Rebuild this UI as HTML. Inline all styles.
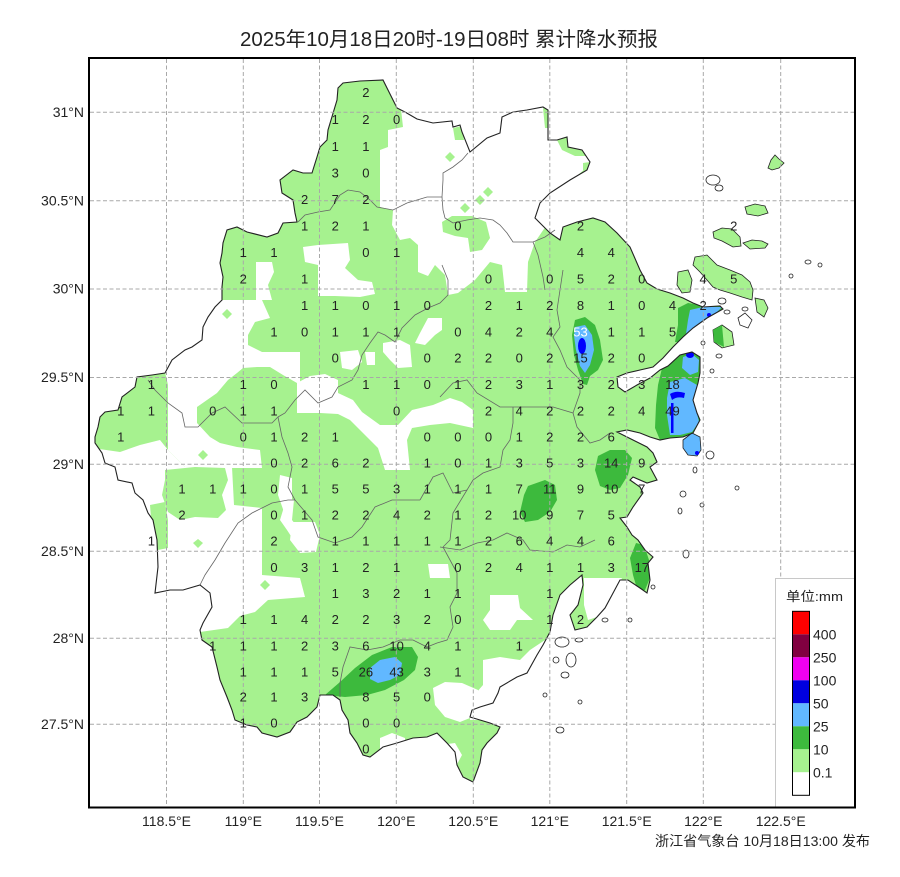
<!DOCTYPE html>
<html><head><meta charset="utf-8"><style>
html,body{margin:0;padding:0;background:#fff;}
svg{display:block;}
text{font-family:"Liberation Sans","Noto Sans CJK SC",sans-serif;}
</style></head><body>
<svg width="900" height="877" viewBox="0 0 900 877" xmlns="http://www.w3.org/2000/svg">
<defs>
<path id="prov" d="M338,88 L343,83 L360,81 L383,80 L389,92 L397,108 L405,112 L417,119 L433,123 L452,121 L453,127 L460,125 L462,132 L470,152 L487,138 L500,133 L502,117 L513,112 L527,110 L543,107 L548,110 L548,140 L557,140 L567,137 L568,147 L582,150 L590,162 L587,170 L570,180 L550,193 L540,203 L535,218 L540,223 L550,233 L560,240 L563,227 L577,222 L593,218 L605,222 L617,233 L630,247 L640,270 L647,283 L657,289 L670,293 L683,298 L693,303 L703,307 L720,306 L723,309 L707,318 L693,328 L683,337 L673,347 L663,358 L653,367 L640,370 L627,373 L617,377 L618,387 L625,392 L637,385 L650,378 L660,370 L668,366 L680,355 L692,352 L700,357 L700,373 L698,383 L693,400 L697,413 L700,420 L693,433 L683,437 L670,438 L660,440 L650,437 L640,433 L627,430 L617,432 L627,437 L647,447 L653,453 L657,462 L650,467 L657,480 L647,483 L633,477 L630,480 L640,487 L643,493 L633,507 L627,517 L620,518 L627,527 L632,535 L638,540 L645,550 L653,557 L648,563 L650,580 L647,593 L640,588 L628,580 L620,580 L612,595 L605,608 L597,617 L587,627 L575,630 L570,615 L578,605 L583,585 L582,575 L570,585 L560,595 L553,615 L550,632 L543,645 L537,655 L527,673 L517,677 L500,687 L498,693 L493,703 L480,707 L472,710 L470,717 L480,720 L490,723 L500,727 L497,733 L487,743 L482,750 L480,763 L473,782 L463,777 L457,765 L455,752 L447,743 L437,733 L427,737 L413,738 L397,743 L383,747 L370,757 L363,755 L357,743 L350,733 L348,720 L342,710 L340,700 L333,695 L320,695 L317,707 L307,717 L297,722 L290,732 L277,737 L262,733 L257,727 L247,725 L235,720 L232,710 L227,697 L220,680 L217,667 L212,647 L202,640 L200,630 L203,623 L212,607 L210,593 L200,585 L183,590 L170,590 L155,593 L158,567 L157,540 L153,520 L148,513 L143,500 L135,493 L132,483 L118,480 L115,467 L105,463 L102,453 L95,443 L95,437 L98,427 L100,417 L105,412 L118,410 L122,397 L135,387 L137,377 L152,375 L165,373 L172,360 L185,350 L192,347 L202,340 L203,327 L208,317 L215,307 L222,300 L222,287 L223,277 L220,263 L222,253 L223,243 L227,230 L237,227 L247,232 L267,237 L278,233 L283,223 L297,222 L295,213 L293,200 L282,193 L280,180 L293,170 L303,173 L312,173 L317,157 L320,147 L327,140 L328,130 L337,100 Z"/>
<clipPath id="zj"><use href="#prov"/></clipPath>
</defs>

<rect x="0" y="0" width="900" height="877" fill="#fff"/>

<!-- Title -->
<text x="240" y="46" font-size="20" fill="#222" textLength="418" lengthAdjust="spacingAndGlyphs">2025年10月18日20时-19日08时 累计降水预报</text>

<!-- Rain field clipped to province -->
<g clip-path="url(#zj)">
<rect x="85" y="70" width="680" height="720" fill="#a6f28f"/>
<g fill="#fff">
<path d="M400,100 L560,95 L595,160 L570,182 L545,200 L538,215 L546,226 L535,242 L528,262 L527,292 L505,292 L502,265 L490,262 L475,280 L458,293 L448,295 L445,275 L435,265 L428,276 L418,272 L418,245 L410,238 L400,240 L392,225 L393,210 L380,207 L380,150 L388,147 L388,130 L403,127 Z"/>
<path d="M303,247 L318,245 L348,243 L350,260 L345,268 L358,280 L372,282 L375,294 L360,297 L335,296 L318,296 L318,265 L305,262 Z"/>
<path d="M256,262 L272,262 L274,272 L268,285 L272,300 L256,300 Z"/>
<path d="M165,300 L262,300 L270,318 L255,322 L248,335 L248,345 L262,352 L300,352 L300,383 L297,383 L283,375 L270,367 L257,367 L243,368 L237,373 L228,380 L217,393 L197,407 L197,423 L210,437 L220,443 L237,447 L260,450 L262,468 L232,468 L185,467 L168,450 L168,385 L165,372 Z"/>
<path d="M297,383 L310,376 L325,374 L338,380 L338,393 L353,400 L362,412 L380,425 L398,425 L412,410 L433,405 L450,398 L462,402 L473,410 L473,428 L450,423 L430,425 L412,428 L407,440 L410,470 L385,470 L378,448 L362,432 L350,420 L338,414 L320,413 L297,413 Z"/>
<path d="M383,343 L400,340 L410,345 L412,367 L398,368 L390,360 L383,352 Z"/>
<path d="M428,318 L442,318 L442,330 L435,335 L425,345 L415,343 L420,333 Z"/>
<path d="M340,352 L358,350 L362,362 L352,370 L342,368 Z"/>
<path d="M365,352 L375,352 L375,365 L367,365 Z"/>
<path d="M85,447 L120,452 L140,445 L160,440 L168,450 L185,467 L232,467 L234,505 L262,508 L262,575 L300,578 L305,597 L268,600 L255,612 L240,616 L228,628 L200,632 L150,640 L85,640 Z"/>
<path d="M280,475 L292,478 L292,510 L284,512 L278,495 Z"/>
<path d="M287,497 L294,500 L292,520 L302,533 L312,550 L300,550 L287,530 L280,520 Z"/>
<path d="M292,522 L315,522 L320,535 L316,552 L300,553 L290,540 Z"/>
<path d="M428,564 L448,564 L450,578 L430,578 Z"/>
<path d="M584,578 L622,578 L612,596 L605,608 L597,617 L588,620 L584,605 Z"/>
<path d="M490,595 L518,595 L520,608 L533,620 L517,620 L510,630 L490,630 L483,620 L490,610 Z"/>
<path d="M470,700 L483,685 L483,660 L500,657 L520,660 L530,650 L545,640 L560,640 L560,720 L470,720 Z"/>
<path d="M433,688 L445,682 L462,683 L478,690 L480,705 L470,718 L460,722 L445,717 L435,705 Z"/>
<path d="M380,738 L392,733 L405,738 L405,760 L380,760 Z"/>
<path d="M440,745 L455,743 L462,755 L455,768 L440,765 Z"/>
</g>
<g fill="#a6f28f">
<path d="M442,222 L452,216 L472,216 L486,222 L490,238 L482,250 L470,252 L468,238 L455,236 L443,232 Z"/>
<path d="M445,157 L450,152 L455,157 L450,162 Z"/>
<path d="M460,208 L465,203 L470,208 L465,213 Z"/>
<path d="M475,200 L480,195 L485,200 L480,205 Z"/>
<path d="M483,192 L488,187 L493,192 L488,197 Z"/>
<path d="M543,108 L550,110 L550,128 L545,128 Z"/>
<path d="M557,140 L567,137 L568,147 L582,150 L586,156 L575,156 L562,150 Z"/>
<path d="M583,163 L590,162 L588,170 L583,170 Z"/>
<path d="M453,128 L462,126 L464,140 L455,140 Z"/>
<path d="M222,314 L227,309 L232,314 L227,319 Z"/>
<path d="M165,470 L195,467 L225,468 L228,480 L222,495 L226,510 L218,518 L195,517 L180,520 L168,512 L162,495 L165,480 Z"/>
<path d="M150,505 L165,502 L168,520 L168,548 L158,550 L152,530 Z"/>
<path d="M198,455 L203,450 L208,455 L203,460 Z"/>
<path d="M260,585 L265,580 L270,585 L265,590 Z"/>
<path d="M193,543 L198,539 L203,543 L198,548 Z"/>
</g>
<!-- 10-25 -->
<g fill="#3dba3d">
<path d="M575,320 L585,317 L595,325 L600,340 L603,360 L598,370 L590,376 L587,385 L583,384 L578,370 L574,355 L572,335 Z"/>
<path d="M678,308 L688,303 L700,305 L715,304 L724,308 L712,318 L700,325 L690,334 L682,342 L675,342 L678,325 Z"/>
<path d="M662,368 L672,360 L682,354 L692,351 L700,357 L700,373 L698,385 L694,400 L697,413 L700,420 L693,433 L683,437 L670,440 L660,440 L655,428 L656,405 L658,385 Z"/>
<path d="M598,456 L610,450 L625,450 L632,458 L628,475 L620,488 L610,490 L600,486 L595,470 Z"/>
<path d="M528,486 L545,480 L555,485 L557,500 L550,512 L538,520 L525,522 L520,512 L524,495 Z"/>
<path d="M636,543 L644,545 L649,560 L650,578 L645,590 L638,592 L633,575 L630,558 Z"/>
<path d="M325,695 L340,682 L355,668 L372,655 L392,647 L412,647 L418,657 L415,670 L404,680 L385,690 L367,695 L345,697 Z"/>
</g>
<!-- 25-50 -->
<g fill="#61b8ff">
<path d="M575,327 L585,325 L592,335 L594,350 L590,365 L585,373 L580,366 L576,350 L574,336 Z"/>
<path d="M690,310 L703,307 L722,307 L712,317 L700,323 L692,332 L686,334 L688,320 Z"/>
<path d="M683,357 L692,354 L699,360 L698,372 L690,375 L682,368 Z"/>
<path d="M670,382 L685,378 L697,385 L694,400 L697,413 L699,422 L692,432 L680,435 L670,435 L667,415 L667,398 Z"/>
<path d="M370,668 L380,660 L395,657 L402,663 L400,675 L390,680 L378,683 L370,679 Z"/>
</g>
<!-- 50-100 -->
<g fill="#0000fe">
<ellipse cx="582" cy="346" rx="4" ry="8"/>
<ellipse cx="690" cy="355" rx="4" ry="3"/>
<path d="M670,394 Q676,390 685,393 L684,398 Q677,396 672,400 Z"/>
<rect x="671" y="403" width="2.5" height="30"/>
<circle cx="709" cy="315" r="2"/>
<circle cx="696" cy="329" r="2"/>
</g>
</g>

<!-- Islands -->
<g fill="#a6f28f" stroke="#222" stroke-width="0.8">
<path d="M695,257 L707,255 L717,265 L730,270 L742,275 L750,282 L753,290 L752,300 L742,297 L730,293 L720,290 L713,287 L707,280 L700,272 L693,265 Z"/>
<path d="M678,272 L688,270 L692,280 L690,292 L682,293 L677,285 Z"/>
<path d="M713,232 L722,228 L732,229 L740,237 L741,246 L733,247 L722,241 L714,238 Z"/>
<path d="M743,243 L752,240 L762,241 L768,244 L765,248 L750,249 Z"/>
<path d="M745,207 L755,204 L765,206 L768,213 L758,216 L747,214 Z"/>
<path d="M755,298 L764,300 L768,308 L764,317 L757,312 Z"/>
<path d="M713,330 L722,325 L732,332 L734,345 L722,348 L714,342 Z"/>
<path d="M768,168 L771,160 L775,155 L779,159 L784,163 L779,168 L772,170 Z"/>
</g>
<path d="M713,330 L722,325 L724,347 L714,342 Z" fill="#3dba3d"/>
<path d="M683,440 L692,433 L700,437 L701,450 L697,456 L688,455 L683,448 Z" fill="#61b8ff" stroke="#222" stroke-width="0.8"/>
<circle cx="697" cy="453" r="2" fill="#0000fe"/>
<g fill="#fff" stroke="#222" stroke-width="0.8">
<path d="M738,318 L745,313 L752,320 L748,328 L740,325 Z"/>
<ellipse cx="713" cy="180" rx="7" ry="5"/>
<ellipse cx="719" cy="188" rx="4" ry="3"/>
<ellipse cx="722" cy="301" rx="4" ry="3"/>
<ellipse cx="745" cy="309" rx="3" ry="2"/>
<ellipse cx="727" cy="312" rx="3" ry="2"/>
<ellipse cx="808" cy="262" rx="3" ry="2"/>
<ellipse cx="820" cy="265" rx="2" ry="2"/>
<ellipse cx="791" cy="276" rx="2" ry="2"/>
<ellipse cx="703" cy="343" rx="2" ry="2"/>
<ellipse cx="719" cy="356" rx="3" ry="2"/>
<ellipse cx="712" cy="371" rx="2" ry="2"/>
<ellipse cx="562" cy="642" rx="7" ry="5"/>
<ellipse cx="579" cy="640" rx="4" ry="2"/>
<ellipse cx="571" cy="660" rx="5" ry="7"/>
<ellipse cx="556" cy="660" rx="3" ry="3"/>
<ellipse cx="565" cy="675" rx="4" ry="3"/>
<ellipse cx="580" cy="702" rx="2" ry="2"/>
<ellipse cx="545" cy="695" rx="2" ry="2"/>
<ellipse cx="560" cy="730" rx="4" ry="3"/>
<ellipse cx="605" cy="620" rx="3" ry="2"/>
<ellipse cx="630" cy="620" rx="2" ry="2"/>
<ellipse cx="653" cy="587" rx="2" ry="2"/>
<ellipse cx="686" cy="554" rx="3" ry="4"/>
<ellipse cx="683" cy="494" rx="3" ry="3"/>
<ellipse cx="680" cy="511" rx="2" ry="3"/>
<ellipse cx="695" cy="470" rx="2" ry="3"/>
<ellipse cx="737" cy="488" rx="2" ry="2"/>
<ellipse cx="710" cy="455" rx="4" ry="4"/>
<ellipse cx="702" cy="505" rx="2" ry="2"/>
</g>

<!-- internal boundaries -->
<g fill="none" stroke="#666" stroke-width="0.8">
<polyline points="298,222 305,215 318,212 330,210 340,195 348,190 360,192 370,200 377,207 393,210 407,203 427,197 442,197 443,180 443,173 453,167 462,160 468,153"/>
<polyline points="442,197 443,210 445,218 453,223 467,220 480,218 493,220 500,225 507,233 513,242 533,242 545,237 555,230"/>
<polyline points="533,242 538,255 543,277 545,290"/>
<polyline points="442,265 448,280 448,295 440,303 428,308 415,315 402,328 395,342 385,335 378,332 370,343 362,355 358,370 352,380 338,387 332,397 318,403 305,390 295,400 285,413 278,417 272,423 258,423 242,423 225,407 212,413 198,427 185,427 182,413 168,403 155,390 148,380"/>
<polyline points="278,417 282,437 288,453 292,467 288,487 295,500 288,500 272,503 252,513 238,523 225,543 215,560 205,575 200,585"/>
<polyline points="295,500 312,520 318,537 335,543 352,537 362,527 375,507 392,500 415,500 420,500"/>
<polyline points="440,397 453,383 467,380 477,393 500,407 513,407 533,407 553,407 573,413 577,427 590,443 600,440 610,433"/>
<polyline points="513,407 513,423 510,440 503,450 500,467 483,473 473,480 467,490 453,493 443,473 433,477 420,500"/>
<polyline points="467,490 453,513 450,540 443,547"/>
<polyline points="573,413 580,393 580,380 567,367 560,350 553,337 560,327 557,310 560,290 563,270"/>
<polyline points="340,697 340,683 343,667 350,647 367,650 383,647 400,640 413,640 427,647 437,643 447,640 453,627 450,607 457,593 457,573 450,560 443,547"/>
<polyline points="440,547 460,550 477,543 493,540 507,533 523,540 530,550 553,552 567,545 580,547 595,540"/>
</g>

<!-- province outline -->
<use href="#prov" fill="none" stroke="#222" stroke-width="1.1"/>

<!-- grid -->
<g stroke="#a8a8a8" stroke-width="1" stroke-dasharray="4,2.5">
<line x1="166.5" y1="59" x2="166.5" y2="806"/>
<line x1="243.3" y1="59" x2="243.3" y2="806"/>
<line x1="319.5" y1="59" x2="319.5" y2="806"/>
<line x1="396.3" y1="59" x2="396.3" y2="806"/>
<line x1="473.3" y1="59" x2="473.3" y2="806"/>
<line x1="549.8" y1="59" x2="549.8" y2="806"/>
<line x1="626.7" y1="59" x2="626.7" y2="806"/>
<line x1="703.3" y1="59" x2="703.3" y2="806"/>
<line x1="780.7" y1="59" x2="780.7" y2="806"/>
<line x1="90" y1="112.3" x2="854" y2="112.3"/>
<line x1="90" y1="200.7" x2="854" y2="200.7"/>
<line x1="90" y1="289" x2="854" y2="289"/>
<line x1="90" y1="377.5" x2="854" y2="377.5"/>
<line x1="90" y1="464.3" x2="854" y2="464.3"/>
<line x1="90" y1="551.3" x2="854" y2="551.3"/>
<line x1="90" y1="638.3" x2="854" y2="638.3"/>
<line x1="90" y1="724.2" x2="854" y2="724.2"/>
</g>

<!-- numbers -->
<g font-size="13" fill="#222" text-anchor="middle">
<text x="365.9" y="97.1">2</text>
<text x="335.3" y="124.1">1</text><text x="365.9" y="124.1">2</text><text x="396.6" y="124.1">0</text>
<text x="335.3" y="151.1">1</text><text x="365.9" y="151.1">1</text>
<text x="335.3" y="177.6">3</text><text x="365.9" y="177.6">0</text>
<text x="304.6" y="204.1">2</text><text x="335.3" y="204.1">7</text><text x="365.9" y="204.1">2</text>
<text x="304.6" y="230.6">1</text><text x="335.3" y="230.6">2</text><text x="365.9" y="230.6">1</text><text x="457.9" y="230.6">0</text><text x="580.5" y="230.6">2</text><text x="733.8" y="230.6">2</text>
<text x="243.3" y="257.1">1</text><text x="274" y="257.1">1</text><text x="365.9" y="257.1">0</text><text x="396.6" y="257.1">1</text><text x="580.5" y="257.1">4</text><text x="611.2" y="257.1">4</text>
<text x="243.3" y="283.6">2</text><text x="304.6" y="283.6">1</text><text x="488.5" y="283.6">0</text><text x="549.8" y="283.6">0</text><text x="580.5" y="283.6">5</text><text x="611.2" y="283.6">2</text><text x="641.8" y="283.6">0</text><text x="703.1" y="283.6">4</text><text x="733.8" y="283.6">5</text>
<text x="304.6" y="310.1">1</text><text x="335.3" y="310.1">1</text><text x="365.9" y="310.1">0</text><text x="396.6" y="310.1">1</text><text x="427.2" y="310.1">0</text><text x="488.5" y="310.1">2</text><text x="519.2" y="310.1">1</text><text x="549.8" y="310.1">2</text><text x="580.5" y="310.1">8</text><text x="611.2" y="310.1">1</text><text x="641.8" y="310.1">0</text><text x="672.5" y="310.1">4</text><text x="703.1" y="310.1">2</text>
<text x="274" y="336.3">1</text><text x="304.6" y="336.3">0</text><text x="335.3" y="336.3">1</text><text x="365.9" y="336.3">1</text><text x="396.6" y="336.3">1</text><text x="457.9" y="336.3">0</text><text x="488.5" y="336.3">4</text><text x="519.2" y="336.3">2</text><text x="549.8" y="336.3">4</text><text x="580.5" y="336.3" fill="#fff">53</text><text x="611.2" y="336.3">1</text><text x="641.8" y="336.3">1</text><text x="672.5" y="336.3">5</text>
<text x="335.3" y="362.6">0</text><text x="427.2" y="362.6">0</text><text x="457.9" y="362.6">2</text><text x="488.5" y="362.6">2</text><text x="519.2" y="362.6">0</text><text x="549.8" y="362.6">2</text><text x="580.5" y="362.6">15</text><text x="611.2" y="362.6">2</text><text x="641.8" y="362.6">0</text>
<text x="151.4" y="388.9">1</text><text x="243.3" y="388.9">1</text><text x="274" y="388.9">0</text><text x="365.9" y="388.9">1</text><text x="396.6" y="388.9">1</text><text x="427.2" y="388.9">0</text><text x="457.9" y="388.9">1</text><text x="488.5" y="388.9">2</text><text x="519.2" y="388.9">3</text><text x="549.8" y="388.9">1</text><text x="580.5" y="388.9">3</text><text x="611.2" y="388.9">2</text><text x="641.8" y="388.9">3</text><text x="672.5" y="388.9">18</text>
<text x="120.7" y="415.3">1</text><text x="151.4" y="415.3">1</text><text x="212.7" y="415.3">0</text><text x="243.3" y="415.3">1</text><text x="274" y="415.3">1</text><text x="396.6" y="415.3">0</text><text x="488.5" y="415.3">2</text><text x="519.2" y="415.3">4</text><text x="549.8" y="415.3">2</text><text x="580.5" y="415.3">2</text><text x="611.2" y="415.3">2</text><text x="641.8" y="415.3">4</text><text x="672.5" y="415.3">49</text>
<text x="120.7" y="441.3">1</text><text x="243.3" y="441.3">0</text><text x="274" y="441.3">1</text><text x="304.6" y="441.3">2</text><text x="335.3" y="441.3">1</text><text x="427.2" y="441.3">0</text><text x="457.9" y="441.3">0</text><text x="488.5" y="441.3">0</text><text x="519.2" y="441.3">1</text><text x="549.8" y="441.3">2</text><text x="580.5" y="441.3">2</text><text x="611.2" y="441.3">6</text>
<text x="274" y="467.6">0</text><text x="304.6" y="467.6">2</text><text x="335.3" y="467.6">6</text><text x="365.9" y="467.6">2</text><text x="427.2" y="467.6">1</text><text x="457.9" y="467.6">0</text><text x="488.5" y="467.6">1</text><text x="519.2" y="467.6">3</text><text x="549.8" y="467.6">5</text><text x="580.5" y="467.6">3</text><text x="611.2" y="467.6">14</text><text x="641.8" y="467.6">9</text>
<text x="182" y="493.6">1</text><text x="212.7" y="493.6">1</text><text x="243.3" y="493.6">1</text><text x="274" y="493.6">0</text><text x="304.6" y="493.6">1</text><text x="335.3" y="493.6">5</text><text x="365.9" y="493.6">5</text><text x="396.6" y="493.6">3</text><text x="427.2" y="493.6">1</text><text x="457.9" y="493.6">1</text><text x="488.5" y="493.6">1</text><text x="519.2" y="493.6">7</text><text x="549.8" y="493.6">11</text><text x="580.5" y="493.6">9</text><text x="611.2" y="493.6">10</text><text x="641.8" y="493.6">7</text>
<text x="182" y="519.6">2</text><text x="274" y="519.6">0</text><text x="304.6" y="519.6">1</text><text x="335.3" y="519.6">2</text><text x="365.9" y="519.6">2</text><text x="396.6" y="519.6">4</text><text x="427.2" y="519.6">2</text><text x="457.9" y="519.6">1</text><text x="488.5" y="519.6">2</text><text x="519.2" y="519.6">10</text><text x="549.8" y="519.6">9</text><text x="580.5" y="519.6">7</text><text x="611.2" y="519.6">5</text>
<text x="151.4" y="545.6">1</text><text x="274" y="545.6">2</text><text x="335.3" y="545.6">1</text><text x="365.9" y="545.6">1</text><text x="396.6" y="545.6">1</text><text x="427.2" y="545.6">1</text><text x="457.9" y="545.6">1</text><text x="488.5" y="545.6">2</text><text x="519.2" y="545.6">6</text><text x="549.8" y="545.6">4</text><text x="580.5" y="545.6">4</text><text x="611.2" y="545.6">6</text>
<text x="274" y="571.9">0</text><text x="304.6" y="571.9">3</text><text x="335.3" y="571.9">1</text><text x="365.9" y="571.9">2</text><text x="396.6" y="571.9">1</text><text x="457.9" y="571.9">0</text><text x="488.5" y="571.9">2</text><text x="519.2" y="571.9">4</text><text x="549.8" y="571.9">1</text><text x="580.5" y="571.9">1</text><text x="611.2" y="571.9">3</text><text x="641.8" y="571.9">17</text>
<text x="335.3" y="597.9">1</text><text x="365.9" y="597.9">3</text><text x="396.6" y="597.9">2</text><text x="427.2" y="597.9">1</text><text x="457.9" y="597.9">1</text><text x="549.8" y="597.9">1</text>
<text x="243.3" y="623.9">1</text><text x="274" y="623.9">1</text><text x="304.6" y="623.9">4</text><text x="335.3" y="623.9">2</text><text x="365.9" y="623.9">2</text><text x="396.6" y="623.9">3</text><text x="427.2" y="623.9">2</text><text x="457.9" y="623.9">0</text><text x="549.8" y="623.9">1</text><text x="580.5" y="623.9">2</text>
<text x="212.7" y="650.3">1</text><text x="243.3" y="650.3">1</text><text x="274" y="650.3">1</text><text x="304.6" y="650.3">2</text><text x="335.3" y="650.3">3</text><text x="365.9" y="650.3">6</text><text x="396.6" y="650.3">10</text><text x="427.2" y="650.3">4</text><text x="457.9" y="650.3">1</text><text x="519.2" y="650.3">1</text>
<text x="243.3" y="676.3">1</text><text x="274" y="676.3">1</text><text x="304.6" y="676.3">1</text><text x="335.3" y="676.3">5</text><text x="365.9" y="676.3">26</text><text x="396.6" y="676.3">43</text><text x="427.2" y="676.3">3</text><text x="457.9" y="676.3">1</text>
<text x="243.3" y="701.6">2</text><text x="274" y="701.6">1</text><text x="304.6" y="701.6">3</text><text x="365.9" y="701.6">8</text><text x="396.6" y="701.6">5</text><text x="427.2" y="701.6">0</text>
<text x="243.3" y="727.6">1</text><text x="274" y="727.6">0</text><text x="365.9" y="727.6">0</text><text x="396.6" y="727.6">0</text>
<text x="365.9" y="753.6">0</text>
</g>

<!-- Legend -->
<rect x="775.5" y="578.5" width="79" height="229" fill="#fff" stroke="#c8c8c8" stroke-width="1"/>
<text x="786" y="601" font-size="13" fill="#222" textLength="57" lengthAdjust="spacingAndGlyphs">单位:mm</text>
<rect x="792.5" y="611.3" width="17" height="23" fill="#fe0000"/>
<rect x="792.5" y="634.3" width="17" height="23" fill="#810040"/>
<rect x="792.5" y="657.3" width="17" height="23" fill="#f000f0"/>
<rect x="792.5" y="680.3" width="17" height="23" fill="#0000e0"/>
<rect x="792.5" y="703.3" width="17" height="23" fill="#61b8ff"/>
<rect x="792.5" y="726.3" width="17" height="23" fill="#3dba3d"/>
<rect x="792.5" y="749.3" width="17" height="23" fill="#a6f28f"/>
<rect x="792.5" y="772.3" width="17" height="23" fill="#fff"/>
<rect x="792.5" y="611.3" width="17" height="184" fill="none" stroke="#000" stroke-width="1"/>
<g font-size="14" fill="#222">
<text x="813" y="639.3">400</text>
<text x="813" y="662.3">250</text>
<text x="813" y="685.3">100</text>
<text x="813" y="708.3">50</text>
<text x="813" y="731.3">25</text>
<text x="813" y="754.3">10</text>
<text x="813" y="777.3">0.1</text>
</g>

<!-- frame -->
<rect x="89" y="58" width="766" height="749.5" fill="none" stroke="#000" stroke-width="2"/>

<!-- axis labels -->
<g font-size="14" fill="#222" text-anchor="end">
<text x="84" y="117">31°N</text>
<text x="84" y="205.4">30.5°N</text>
<text x="84" y="293.7">30°N</text>
<text x="84" y="382.2">29.5°N</text>
<text x="84" y="469">29°N</text>
<text x="84" y="556">28.5°N</text>
<text x="84" y="643">28°N</text>
<text x="84" y="728.9">27.5°N</text>
</g>
<g font-size="14" fill="#222" text-anchor="middle">
<text x="166.5" y="826">118.5°E</text>
<text x="243.3" y="826">119°E</text>
<text x="319.5" y="826">119.5°E</text>
<text x="396.3" y="826">120°E</text>
<text x="473.3" y="826">120.5°E</text>
<text x="549.8" y="826">121°E</text>
<text x="626.7" y="826">121.5°E</text>
<text x="703.3" y="826">122°E</text>
<text x="780.7" y="826">122.5°E</text>
</g>
<text x="655" y="846" font-size="14" fill="#222" textLength="215" lengthAdjust="spacingAndGlyphs">浙江省气象台 10月18日13:00 发布</text>
</svg>
</body></html>
